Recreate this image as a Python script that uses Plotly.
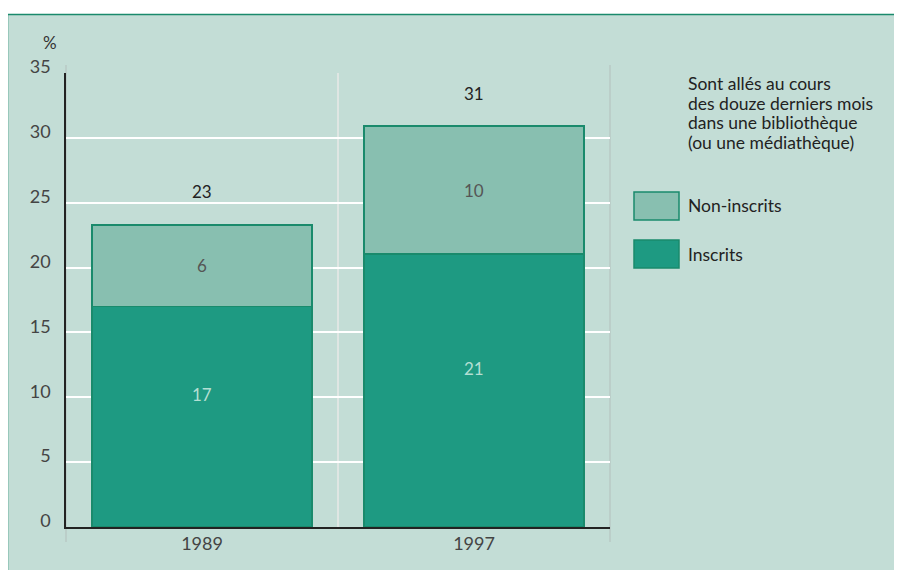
import plotly.graph_objects as go

years = ["1989", "1997"]
inscrits = [17.0, 21.05]
non_inscrits = [6.3, 9.85]
inscrits_labels = ["17", "21"]
non_inscrits_labels = ["6", "10"]
total_labels = ["23", "31"]
y_ticks = [0, 5, 10, 15, 20, 25, 30, 35]
legend_title = ["Sont allés au cours", "des douze derniers mois",
                "dans une bibliothèque", "(ou une médiathèque)"]
series_names = ["Non-inscrits", "Inscrits"]

OFF = 8  # page body margin
W, H = 902 - OFF, 570 - OFF
L = 66 - OFF
T = 73 - OFF
R = W - (610 - OFF)
B = H - (527 - OFF)
FONT = "Lato"
BG = "#c3ddd6"
DARK = "#1a8a6c"
C_INS = "#1e9a82"
C_NON = "#88bfb0"

pw = W - L - R
ph = H - T - B
def px(xs):
    return (xs - OFF - L) / pw
def py(ys):
    return (H - B - (ys - OFF)) / ph

fig = go.Figure()
fig.add_trace(go.Bar(x=years, y=inscrits, name="Inscrits",
                     marker=dict(color=C_INS, line=dict(color=DARK, width=1.5)), hoverinfo="skip"))
fig.add_trace(go.Bar(x=years, y=non_inscrits, name="Non-inscrits",
                     marker=dict(color=C_NON, line=dict(color=DARK, width=1.5)), hoverinfo="skip"))

ann = []
for i, yr in enumerate(years):
    tot = inscrits[i] + non_inscrits[i]
    ann.append(dict(xref="x", yref="y", x=i, y=inscrits[i] / 2, text=inscrits_labels[i], showarrow=False, yshift=22,
                    font=dict(family=FONT, size=17, color="#b3dfd3")))
    ann.append(dict(xref="x", yref="y", x=i, y=inscrits[i] + non_inscrits[i] / 2, text=non_inscrits_labels[i],
                    showarrow=False, font=dict(family=FONT, size=17, color="#555555")))
    ann.append(dict(xref="x", yref="y", x=i, y=tot, text=total_labels[i], showarrow=False, yshift=33,
                    font=dict(family=FONT, size=17, color="#222222")))

ann.append(dict(xref="paper", yref="paper", x=px(49.5), y=py(42), xanchor="center", yanchor="middle",
                text="%", showarrow=False, font=dict(family=FONT, size=17, color="#333333")))

for j, line in enumerate(legend_title):
    ann.append(dict(xref="paper", yref="paper", x=px(686), y=py(84 + j * 19.5), xanchor="left", yanchor="middle",
                    text=line, showarrow=False, font=dict(family=FONT, size=17.5, color="#222222")))

shapes = [
    dict(type="rect", xref="paper", yref="paper", x0=px(0), x1=px(960), y0=py(14), y1=py(-20),
         fillcolor="white", line=dict(width=0), layer="below"),
    dict(type="line", xref="paper", yref="paper", x0=px(7.5), x1=px(960), y0=py(14.5), y1=py(14.5),
         line=dict(color=DARK, width=1.5)),
    dict(type="line", xref="paper", yref="paper", x0=px(7.5), x1=px(7.5), y0=py(14.5), y1=py(640),
         line=dict(color=DARK, width=1.5)),
]
leg_colors = [C_NON, C_INS]
for j, name in enumerate(series_names):
    y0 = 192 + j * 48
    shapes.append(dict(type="rect", xref="paper", yref="paper", x0=px(634), x1=px(679), y0=py(y0), y1=py(y0 + 28),
                       fillcolor=leg_colors[j], line=dict(color=DARK, width=1.5)))
    ann.append(dict(xref="paper", yref="paper", x=px(686), y=py(y0 + 14), xanchor="left", yanchor="middle",
                    text=name, showarrow=False, font=dict(family=FONT, size=17.5, color="#222222")))

for xp in (0, 1):
    shapes.append(dict(type="line", xref="paper", yref="paper", x0=xp, x1=xp, y0=py(542), y1=py(65),
                       line=dict(color="#b9c9c4", width=1.5), layer="below"))

fig.update_layout(
    width=W, height=H,
    margin=dict(l=L, r=R, t=T, b=B),
    paper_bgcolor=BG, plot_bgcolor=BG,
    barmode="stack", bargap=0.19, showlegend=False,
    annotations=ann, shapes=shapes,
    font=dict(family=FONT, color="#555555"),
    xaxis=dict(type="category", showgrid=True, tickson="boundaries", gridcolor="#dfe6e3", gridwidth=1.5,
               showline=True, linecolor="#222222", linewidth=1.5, ticks="",
               tickfont=dict(family=FONT, size=18, color="#444444"), range=[-0.5, 1.5]),
    yaxis=dict(range=[0, 35], tickvals=y_ticks, showgrid=True, gridcolor="#ffffff", gridwidth=1.5,
               showline=True, linecolor="#222222", linewidth=1.5, ticks="", ticklabelstandoff=10,
               ticklabelshift=-6,
               tickfont=dict(family=FONT, size=18, color="#444444"), zeroline=False),
)

fig.write_html("out.html")
